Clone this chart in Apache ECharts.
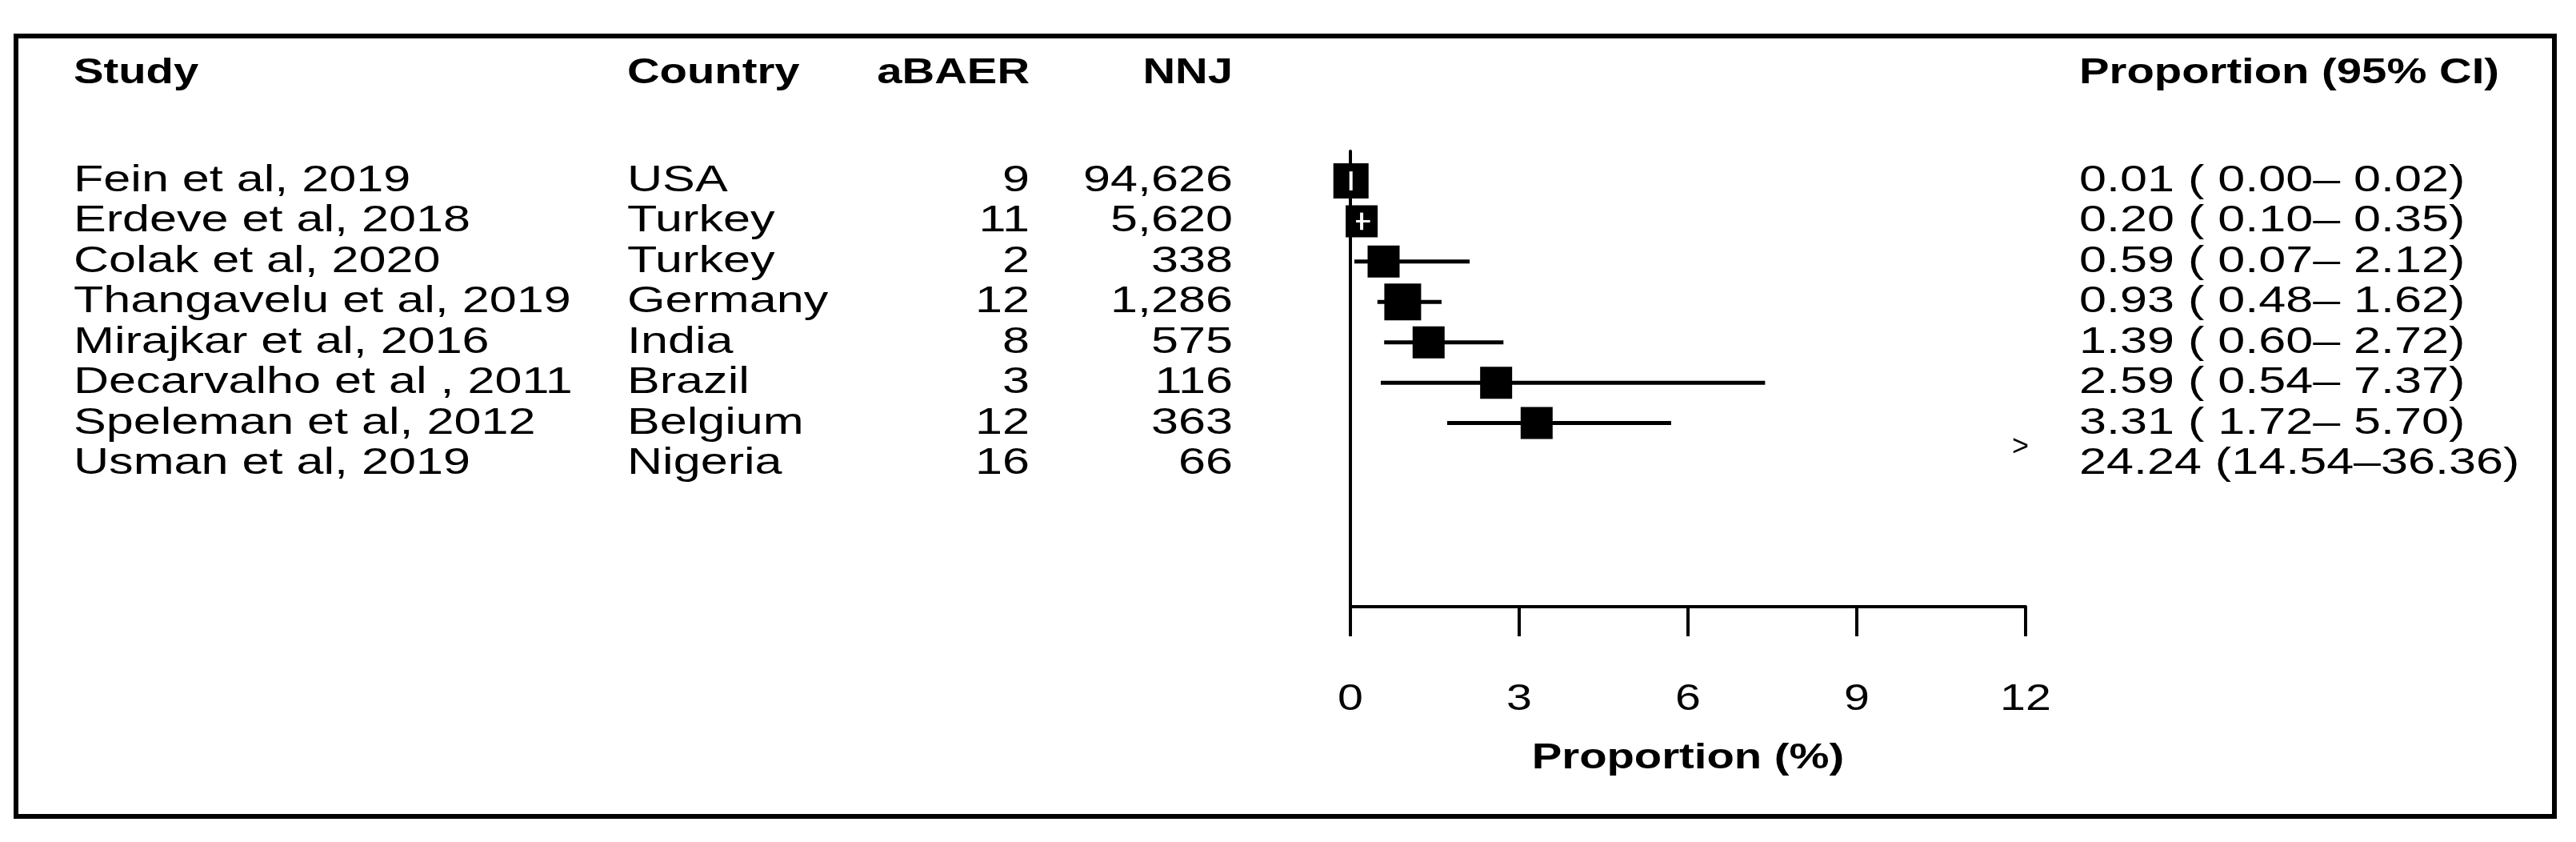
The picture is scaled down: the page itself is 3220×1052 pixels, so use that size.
<!DOCTYPE html>
<html><head><meta charset="utf-8">
<script src="https://cdn.jsdelivr.net/npm/echarts@6/dist/echarts.min.js"></script>
<style>html,body{margin:0;padding:0;background:#fff}#c{width:3220px;height:1052px}</style>
</head><body><div id="c"></div>
<script>
const studies = ["Fein et al, 2019","Erdeve et al, 2018","Colak et al, 2020","Thangavelu et al, 2019","Mirajkar et al, 2016","Decarvalho et al , 2011","Speleman et al, 2012","Usman et al, 2019"];
const countries = ["USA","Turkey","Turkey","Germany","India","Brazil","Belgium","Nigeria"];
const events = [9,11,2,12,8,3,12,16];
const totals = [94626,5620,338,1286,575,116,363,66];
const est = [0.01,0.20,0.59,0.93,1.39,2.59,3.31,24.24];
const lo = [0.00,0.10,0.07,0.48,0.60,0.54,1.72,14.54];
const hi = [0.02,0.35,2.12,1.62,2.72,7.37,5.70,36.36];
const xTicks = [0,3,6,9,12];
const headers = ["Study","Country","aBAER","NNJ","Proportion (95% CI)"];
const xTitle = "Proportion (%)";

const FAM = '"Liberation Sans", Arial, sans-serif';
const FONT = '47px ' + FAM;
const BFONT = 'bold 45px ' + FAM;
const SX = 1.3;      // horizontal stretch of body text
const BSX = 1.25;    // horizontal stretch of bold text
const boxPx = [44,40,40,46,40,40,40,40];
const XMAX = xTicks[xTicks.length-1];
const YMIN = -0.734, YMAX = 10.55;

function pad5(v){ let s=v.toFixed(2); while(s.length<5) s=' '+s; return s; }
const ciText = est.map((e,i)=> e.toFixed(2)+' ('+pad5(lo[i])+'–'+pad5(hi[i])+')');

const rows = studies.map((s,i)=>i);
const chart = echarts.init(document.getElementById('c'), null, {renderer:'canvas'});

function txt(x,y,t,align,font,sx){
  return {type:'text', x:x, y:y, scaleX:sx||SX, scaleY:1,
    style:{text:t, x:0, y:0, fill:'#000', font:font||FONT, align:align, verticalAlign:'middle', textAlign:align, textVerticalAlign:'middle'}};
}

const colX = {study:92, country:784, events:1287, totals:1541, ci:2599};
const headY = 92;

chart.setOption({
  animation:false,
  backgroundColor:'#fff',
  grid:{left:1688, top:189, width:844, height:569, containLabel:false},
  xAxis:{type:'value', min:0, max:XMAX, interval:3, splitLine:{show:false},
    axisLine:{show:true, onZero:false, lineStyle:{color:'#000', width:4}},
    axisTick:{show:true, inside:false, length:37, lineStyle:{color:'#000', width:4}},
    axisLabel:{show:false}},
  yAxis:{type:'value', inverse:true, min:YMIN, max:YMAX, splitLine:{show:false},
    axisLine:{show:true, onZero:false, lineStyle:{color:'#000', width:4}},
    axisTick:{show:false}, axisLabel:{show:false}},
  graphic:[
    {type:'rect', shape:{x:20,y:45,width:3173,height:975}, style:{fill:'none', stroke:'#000', lineWidth:6}},
    txt(colX.study,headY,headers[0],'left',BFONT,BSX),
    txt(colX.country,headY,headers[1],'left',BFONT,BSX),
    txt(colX.events,headY,headers[2],'right',BFONT,BSX),
    txt(colX.totals,headY,headers[3],'right',BFONT,BSX),
    txt(colX.ci,headY,headers[4],'left',BFONT,BSX)
  ],
  series:[
    {type:'custom', coordinateSystem:'cartesian2d', clip:false, silent:true,
     data: rows.map(i=>[0,i]),
     renderItem:function(params, api){
       const i = api.value(1);
       const y = api.coord([0,i])[1];
       return {type:'group', children:[
         txt(colX.study,y,studies[i],'left'),
         txt(colX.country,y,countries[i],'left'),
         txt(colX.events,y,String(events[i]),'right'),
         txt(colX.totals,y,totals[i].toLocaleString('en-US'),'right'),
         txt(colX.ci,y,ciText[i],'left')
       ]};
     }},
    {type:'custom', coordinateSystem:'cartesian2d', clip:false, silent:true,
     data: xTicks.map(v=>[v, YMAX]),
     renderItem:function(params, api){
       const v = api.value(0);
       const p = api.coord([v, YMAX]);
       const children = [txt(p[0], p[1]+116, String(v), 'center', FONT, 1.22)];
       if (params.dataIndex === Math.floor(xTicks.length/2)){
         children.push(txt(p[0], p[1]+190, xTitle, 'center', BFONT, BSX));
       }
       return {type:'group', children};
     }},
    {type:'custom', coordinateSystem:'cartesian2d', clip:false, silent:true,
     data: rows.map(i=>[est[i], i, lo[i], hi[i]]),
     renderItem:function(params, api){
       const e = api.value(0), i = api.value(1), l = api.value(2), h = api.value(3);
       const children = [];
       if (e > XMAX){
         const p = api.coord([XMAX, i]);
         children.push({type:'text', style:{text:'>', x:p[0]+4, y:p[1]-20, fill:'#000', font:'36px ' + FAM, align:'right', verticalAlign:'middle', textAlign:'right', textVerticalAlign:'middle'}});
         return {type:'group', children};
       }
       const pc = api.coord([e,i]);
       const pl = api.coord([l,i]);
       const ph = api.coord([Math.min(h,XMAX),i]);
       const s = boxPx[i];
       children.push({type:'line', shape:{x1:pl[0],y1:pc[1],x2:ph[0],y2:pc[1]}, style:{stroke:'#000', lineWidth:5}});
       children.push({type:'rect', shape:{x:pc[0]-s/2, y:pc[1]-s/2, width:s, height:s}, style:{fill:'#000'}});
       const inside = (pl[0] >= pc[0]-s/2) && (ph[0] <= pc[0]+s/2);
       if (inside){
         children.push({type:'line', shape:{x1:pl[0],y1:pc[1],x2:ph[0],y2:pc[1]}, style:{stroke:'#fff', lineWidth:3}});
         children.push({type:'line', shape:{x1:pc[0],y1:pc[1]-s*0.27,x2:pc[0],y2:pc[1]+s*0.27}, style:{stroke:'#fff', lineWidth:4}});
       }
       return {type:'group', children};
     }}
  ]
});
</script></body></html>
